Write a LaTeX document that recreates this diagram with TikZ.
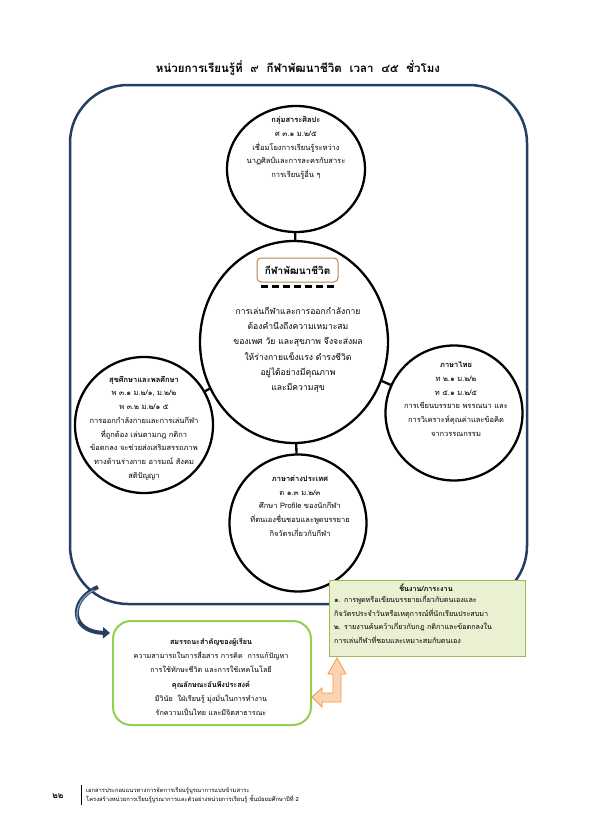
\documentclass[tikz,border=0pt]{standalone}
\usepackage{fontspec}
\setmainfont[Script=Thai]{Loma}
\usetikzlibrary{shapes.geometric,arrows.meta}
\definecolor{navy}{HTML}{243F60}
\definecolor{navylite}{HTML}{8DA3C4}
\definecolor{boxgreen}{HTML}{EAF1D2}
\definecolor{boxgreenline}{HTML}{9BBB59}
\definecolor{litegreen}{HTML}{92D050}
\definecolor{orfill}{HTML}{FBD4B4}
\definecolor{orline}{HTML}{F79646}
\definecolor{hdrline}{HTML}{B7835A}
\begin{document}
\begin{tikzpicture}[x=1pt,y=-1pt]
\tikzset{
  circ/.style={ellipse, draw=black, line width=2.3pt, fill=white, inner sep=0pt},
  link/.style={draw=black, line width=2.3pt},
  smalltxt/.style={align=center, font=\fontsize{7.5}{13.7}\selectfont, inner sep=0pt},
  bigtxt/.style={align=center, font=\fontsize{8.6}{15.2}\selectfont, inner sep=0pt},
}
\useasboundingbox (0,0) rectangle (595,836);
\fill[white] (0,0) rectangle (595,836);

% title
\node[font=\bfseries\fontsize{11.5}{14}\selectfont] (title) at (298,68)
  {หน่วยการเรียนรู้ที่~~๙~~กีฬาพัฒนาชีวิต~~เวลา~~๔๕~~ชั่วโมง};

% outer frame
\node[draw=navy, line width=2.5pt, rounded corners=58pt, minimum width=457pt,
      minimum height=519pt, inner sep=0pt] (frame) at (298.5,344.5) {};

% circles
\node[circ, minimum width=138pt, minimum height=126pt] (c1) at (296,169) {};
\node[circ, minimum width=188pt, minimum height=202pt] (c0) at (294,342) {};
\node[circ, minimum width=138pt, minimum height=136pt] (cl) at (144,425) {};
\node[circ, minimum width=137pt, minimum height=135pt] (cr) at (454,413) {};
\node[circ, minimum width=137pt, minimum height=137pt] (cb) at (298,523) {};

\draw[link] (c1) -- (c0);
\draw[link] (c0) -- (cb);
\draw[link] (c0) -- (cl);
\draw[link] (c0) -- (cr);

% circle texts
\node[smalltxt] (t1) at (296,148)
  {\textbf{กลุ่มสาระศิลปะ}\\ศ ๓.๑ ม.๒/๕\\เชื่อมโยงการเรียนรู้ระหว่าง\\นาฏศิลป์และการละครกับสาระ\\การเรียนรู้อื่น ๆ};

\node[draw=hdrline, line width=1pt, rounded corners=4pt, minimum width=81pt,
      minimum height=24pt, fill=white, inner sep=1pt, font=\bfseries\fontsize{10}{12}\selectfont] (hdr) at (297.5,270) {กีฬาพัฒนาชีวิต};
\draw[line width=2.5pt, dash pattern=on 7pt off 4pt] (hdr.south west) ++(4,4) -- ++(74,0);

\node[bigtxt] (t0) at (298,350)
  {การเล่นกีฬาและการออกกำลังกาย\\ต้องคำนึงถึงความเหมาะสม\\ของเพศ วัย และสุขภาพ จึงจะส่งผล\\ให้ร่างกายแข็งแรง ดำรงชีวิต\\อยู่ได้อย่างมีคุณภาพ\\และมีความสุข};

\node[smalltxt] (tl) at (144,428)
  {\textbf{สุขศึกษาและพลศึกษา}\\พ ๓.๑ ม.๒/๑, ม.๒/๒\\พ ๓.๒ ม.๒/๑ ๕\\การออกกำลังกายและการเล่นกีฬา\\ที่ถูกต้อง เล่นตามกฎ กติกา\\ข้อตกลง จะช่วยส่งเสริมสรรถภาพ\\ทางด้านร่างกาย อารมณ์ สังคม\\สติปัญญา};

\node[smalltxt] (tr) at (456,399)
  {\textbf{ภาษาไทย}\\ท ๒.๑ ม.๒/๒\\ท ๕.๑ ม.๒/๕\\การเขียนบรรยาย พรรณนา และ\\การวิเคราะห์คุณค่าและข้อคิด\\จากวรรณกรรม};

\node[smalltxt] (tb) at (300,506)
  {\textbf{ภาษาต่างประเทศ}\\ต ๑.๓ ม.๒/๓\\ศึกษา Profile ของนักกีฬา\\ที่ตนเองชื่นชอบและพูดบรรยาย\\กิจวัตรเกี่ยวกับกีฬา};

% work box
\node[draw=boxgreenline, fill=boxgreen, line width=0.8pt, minimum width=196pt,
      minimum height=76pt, anchor=north west, inner sep=0pt] (work) at (329,580) {};
\node[font=\bfseries\fontsize{7.2}{9}\selectfont, inner sep=0pt] (worktitle) at (426,588) {ชิ้นงาน/ภาระงาน};
\node[anchor=north west, align=left, font=\fontsize{7.2}{13.5}\selectfont, inner sep=0pt] (worktxt) at (334,595)
  {๑. การพูดหรือเขียนบรรยายเกี่ยวกับตนเองและ\\กิจวัตรประจำวันหรือเหตุการณ์ที่นักเรียนประสบมา\\๒. รายงานค้นคว้าเกี่ยวกับกฎ กติกาและข้อตกลงใน\\การเล่นกีฬาที่ชอบและเหมาะสมกับตนเอง};

% competency box
\node[draw=litegreen, line width=2pt, rounded corners=18pt, minimum width=198pt,
      minimum height=104pt, anchor=north west, fill=white, inner sep=0pt] (comp) at (112,620) {};
\node[align=center, font=\fontsize{7.2}{14.2}\selectfont, inner sep=0pt] (comptxt) at (211,677)
  {\textbf{สมรรถนะสำคัญของผู้เรียน}\\ความสามารถในการสื่อสาร การคิด~~การแก้ปัญหา\\การใช้ทักษะชีวิต และการใช้เทคโนโลยี\\\textbf{คุณลักษณะอันพึงประสงค์}\\มีวินัย~~ใฝ่เรียนรู้ มุ่งมั่นในการทำงาน\\รักความเป็นไทย และมีจิตสาธารณะ};

% left curved arrow
\coordinate (la) at (98,587);
\coordinate (lb) at (110,633);
\draw[navy, line width=4pt, -{Triangle[length=7pt,width=11pt]}] (la) .. controls (68,600) and (70,632) .. (lb);
\draw[navylite, line width=1.2pt] (94,590) .. controls (78,598) and (75,612) .. (78,622);

% orange bent arrow
\filldraw[fill=orfill, draw=orline, line width=0.8pt]
  (337,658) -- (346,674) -- (341,674) -- (341,702) -- (322,702) -- (322,707)
  -- (312,697) -- (322,688) -- (322,693) -- (333,693) -- (333,674) -- (328,674) -- cycle;

% footer
\node[font=\bfseries\fontsize{8.5}{10}\selectfont, inner sep=0pt] (pg) at (58,796) {๒๒};
\coordinate (fa) at (81,785);
\coordinate (fb) at (81,805);
\draw[line width=0.5pt] (fa) -- (fb);
\node[anchor=west, align=left, font=\fontsize{5.8}{9}\selectfont, inner sep=0pt] (foot) at (86,795)
  {เอกสารประกอบแนวทางการจัดการเรียนรู้บูรณาการแบบข้ามสาระ\\โครงสร้างหน่วยการเรียนรู้บูรณาการและตัวอย่างหน่วยการเรียนรู้ ชั้นมัธยมศึกษาปีที่ 2};
\end{tikzpicture}
\end{document}
